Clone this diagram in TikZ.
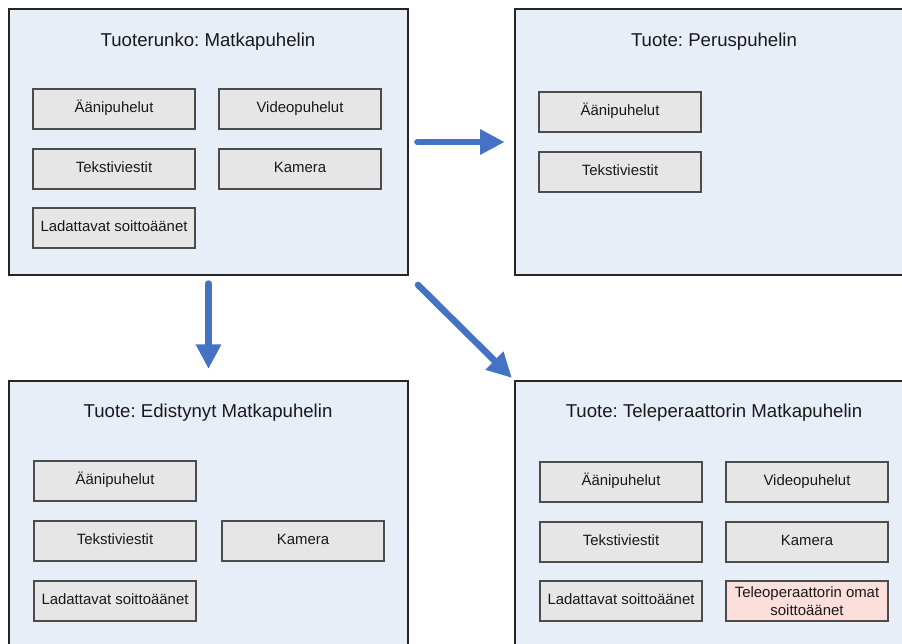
\documentclass[tikz,border=0pt]{standalone}
\usepackage{fontspec}
\setmainfont{Liberation Sans}
\frenchspacing
\usetikzlibrary{arrows.meta}
\definecolor{runkofill}{RGB}{232,238,248}
\definecolor{ominfill}{RGB}{230,230,230}
\definecolor{uusifill}{RGB}{252,222,218}
\definecolor{nuoli}{RGB}{68,114,196}
\tikzset{
  tuote/.style={draw=black!85,fill=runkofill,line width=0.75pt,minimum width=7.98cm,minimum height=5.32cm,inner sep=0pt},
  otsikko/.style={font=\fontsize{10.6}{12}\selectfont,text=black!90,inner sep=0pt},
  laatikko/.style={draw=black!70,line width=0.75pt,minimum width=3.24cm,minimum height=0.8cm,inner sep=1pt,
    font=\fontsize{8.5}{10}\selectfont,text=black!90},
  ominaisuus/.style={laatikko,fill=ominfill,text height=6.2pt,text depth=1.8pt},
  uusi/.style={laatikko,fill=uusifill,align=center},
  nuoli/.style={draw=nuoli,line width=3.7pt,line cap=round,-{Triangle[length=14pt,width=13.6pt]}},
}
\begin{document}
\begin{tikzpicture}[x=0.02cm,y=-0.02cm]
    \useasboundingbox (0,0) rectangle (902,643);
    \clip (0,0) rectangle (902,643);
    % rungot
    \node[tuote] (runko) at (208.5,142) {};
    \node[tuote] (perus) at (714.5,142) {};
    \node[tuote] (edist) at (208.5,514) {};
    \node[tuote] (opera) at (714.5,514) {};
    % otsikot
    \node[otsikko] (runkot) at (208,42) {Tuoterunko: Matkapuhelin};
    \node[otsikko] (peruso) at (714,42) {Tuote: Peruspuhelin};
    \node[otsikko] (edisto) at (208,413) {Tuote: Edistynyt Matkapuhelin};
    \node[otsikko] (operao) at (714,413) {Tuote: Teleperaattorin Matkapuhelin};
    % tuoterunko
    \node[ominaisuus] (r1) at (114,109) {Äänipuhelut};
    \node[ominaisuus] (r2) at (300,109) {Videopuhelut};
    \node[ominaisuus] (r3) at (114,169) {Tekstiviestit};
    \node[ominaisuus] (r4) at (300,169) {Kamera};
    \node[ominaisuus] (r5) at (114,228) {Ladattavat soittoäänet};
    % peruspuhelin
    \node[ominaisuus] (p1) at (620,112) {Äänipuhelut};
    \node[ominaisuus] (p2) at (620,172) {Tekstiviestit};
    % edistynyt
    \node[ominaisuus] (e1) at (115,481) {Äänipuhelut};
    \node[ominaisuus] (e2) at (115,541) {Tekstiviestit};
    \node[ominaisuus] (e3) at (303,541) {Kamera};
    \node[ominaisuus] (e4) at (115,601) {Ladattavat soittoäänet};
    % teleoperaattori
    \node[ominaisuus] (o1) at (621,482) {Äänipuhelut};
    \node[ominaisuus] (o2) at (807,482) {Videopuhelut};
    \node[ominaisuus] (o3) at (621,542) {Tekstiviestit};
    \node[ominaisuus] (o4) at (807,542) {Kamera};
    \node[ominaisuus] (o5) at (621,601) {Ladattavat soittoäänet};
    \node[uusi] (o6) at (807,601) {Teleoperaattorin omat\\soittoäänet};
    % nuolet
    \draw[nuoli,shorten <=5pt,shorten >=5.5pt] (runko.east) -- (perus.west);
    \draw[nuoli,shorten <=4.5pt,shorten >=6.5pt] (runko.south) -- (edist.north);
    \draw[nuoli,shorten <=7.5pt,shorten >=2pt] (runko.south east) -- (opera.north west);
\end{tikzpicture}
\end{document}
